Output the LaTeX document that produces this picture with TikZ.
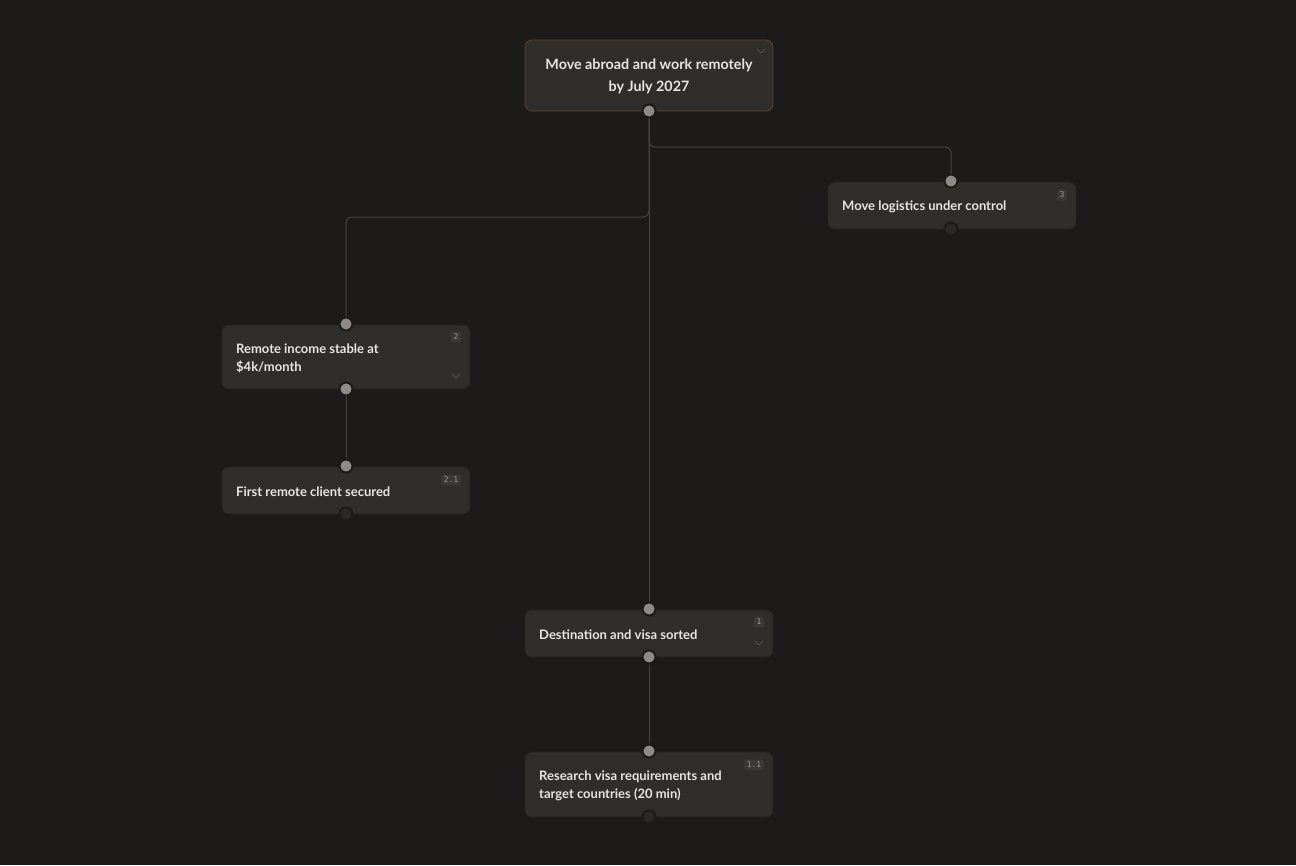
\documentclass[tikz,border=0pt]{standalone}
\usepackage{fontspec}
\setmainfont{Lato}[BoldFont={Lato Bold}]
\setmonofont{DejaVu Sans Mono}
\definecolor{bg}{HTML}{1C1B19}
\definecolor{box}{HTML}{2F2E2B}
\definecolor{ln}{HTML}{45433F}
\definecolor{port}{HTML}{8E8B87}
\definecolor{dport}{HTML}{2A2926}
\definecolor{txt}{HTML}{E8E6E2}
\definecolor{badge}{HTML}{3A3936}
\begin{document}
\begin{tikzpicture}[x=1pt,y=-1pt,
  card/.style={draw=box!80!black,fill=box,rounded corners=7pt,line width=0.8pt},
  lbl/.style={text=txt,font=\bfseries\fontsize{13}{17.5}\selectfont,anchor=west,align=left,inner sep=0pt},
  prt/.style={circle,fill=port,draw=bg,line width=2pt,inner sep=0,minimum size=13pt},
  dprt/.style={circle,fill=dport,draw=bg,line width=2pt,inner sep=0,minimum size=13pt},
  edge/.style={draw=ln,line width=1pt,rounded corners=6pt},
  bdg/.style={fill=badge,rounded corners=2pt,text=port!90!white,font=\ttfamily\fontsize{8}{8}\selectfont,inner sep=2.5pt},
  chev/.style={draw=port!60!bg,line width=0.6pt}]
\fill[bg] (0,0) rectangle (1296,865);
\useasboundingbox (0,0) rectangle (1296,865);
% edges
\draw[edge] (649,111) -- (649,147) -- (951,147) -- (951,181);
\draw[edge] (649,111) -- (649,217) -- (346,217) -- (346,324);
\draw[edge] (649,111) -- (649,609);
\draw[edge] (346,389) -- (346,466);
\draw[edge] (649,657) -- (649,751);
% cards
\draw[card,draw=brown!40!bg] (525,40) rectangle (773,111);
\node[text=txt,font=\bfseries\fontsize{14.3}{22}\selectfont,align=center] (g) at (649,76) {Move abroad and work remotely\\by July 2027};
\draw[chev] (757,49)--(761,53)--(765,49);
\draw[card] (828,182) rectangle (1076,229);
\node[lbl] (a) at (842,207) {Move logistics under control};
\node[bdg] (ba) at (1062,195) {3};
\draw[card] (222,325) rectangle (470,389);
\node[lbl] (b) at (236,358.5) {Remote income stable at\\\$4k/month};
\node[bdg] (bb) at (456,337) {2};
\draw[chev] (452,374)--(456,378)--(460,374);
\draw[card] (222,467) rectangle (470,514);
\node[lbl] (c) at (236,492) {First remote client secured};
\node[bdg] (bc) at (451,480) {2.1};
\draw[card] (525,610) rectangle (773,657);
\node[lbl] (d) at (539,635) {Destination and visa sorted};
\node[bdg] (bd) at (759,622) {1};
\draw[chev] (755,641)--(759,645)--(763,641);
\draw[card] (525,752) rectangle (773,817);
\node[lbl] (e) at (539,786) {Research visa requirements and\\target countries (20 min)};
\node[bdg] (be) at (754,765) {1.1};
% ports
\node[prt] (p1) at (649,111) {};
\node[prt] (p2) at (951,181) {};
\node[dprt] (p3) at (951,229) {};
\node[prt] (p4) at (346,324) {};
\node[prt] (p5) at (346,389) {};
\node[prt] (p6) at (346,466) {};
\node[dprt] (p7) at (346,514) {};
\node[prt] (p8) at (649,609) {};
\node[prt] (p9) at (649,657) {};
\node[prt] (p10) at (649,751) {};
\node[dprt] (p11) at (649,817) {};
\end{tikzpicture}
\end{document}
